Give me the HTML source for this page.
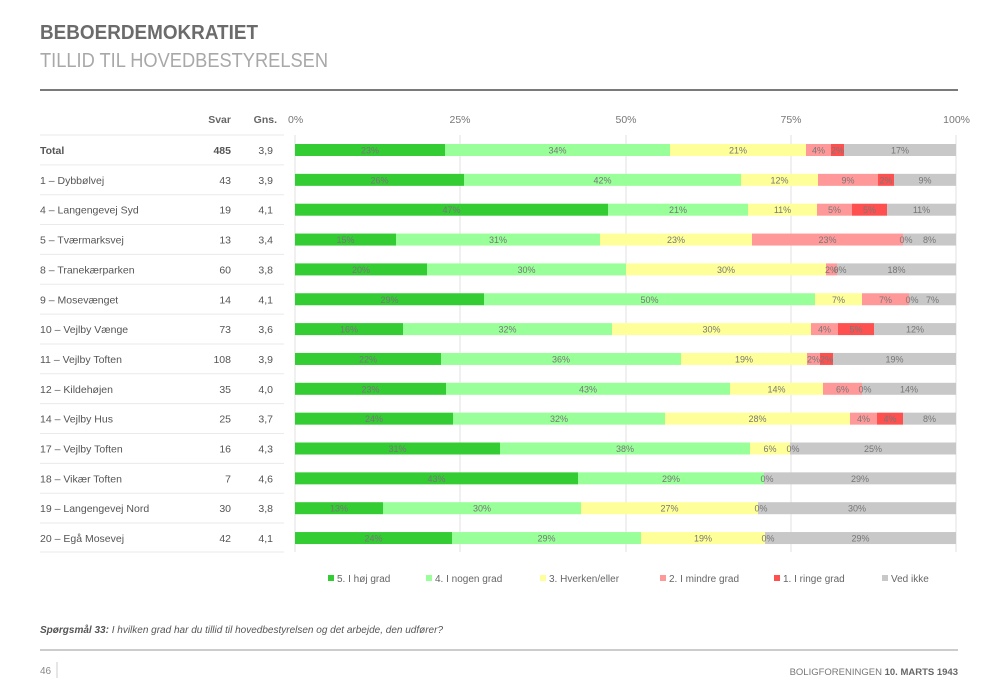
<!DOCTYPE html>
<html><head><meta charset="utf-8">
<style>
html,body{margin:0;padding:0;background:#fff;width:1000px;height:692px;overflow:hidden}
svg{display:block;font-family:"Liberation Sans",sans-serif}
</style></head><body>
<svg id="s" width="1000" height="692" viewBox="0 0 1000 692" xmlns="http://www.w3.org/2000/svg">
<text x="40" y="39" font-size="20" font-weight="bold" fill="#6b6b6b" textLength="218" lengthAdjust="spacingAndGlyphs">BEBOERDEMOKRATIET</text>
<text x="40" y="67" font-size="20" fill="#a8a8a8" textLength="288" lengthAdjust="spacingAndGlyphs">TILLID TIL HOVEDBESTYRELSEN</text>
<rect x="40" y="89" width="918" height="2" fill="#7a7a7a"/>
<text x="231" y="123" font-size="10.5" font-weight="bold" fill="#666" text-anchor="end">Svar</text>
<text x="277" y="123" font-size="10.5" font-weight="bold" fill="#666" text-anchor="end">Gns.</text>
<text x="288" y="123" font-size="10.5" fill="#777">0%</text>
<text x="460" y="123" font-size="10.5" fill="#777" text-anchor="middle">25%</text>
<text x="626" y="123" font-size="10.5" fill="#777" text-anchor="middle">50%</text>
<text x="791" y="123" font-size="10.5" fill="#777" text-anchor="middle">75%</text>
<text x="970" y="123" font-size="10.5" fill="#777" text-anchor="end">100%</text>
<g id="g"></g>
<line x1="40" y1="650" x2="958" y2="650" stroke="#bbb" stroke-width="1.5"/>
<text x="40" y="633" font-size="10" font-style="italic" fill="#555"><tspan font-weight="bold">Spørgsmål 33:</tspan> I hvilken grad har du tillid til hovedbestyrelsen og det arbejde, den udfører?</text>
<text x="40" y="674" font-size="10" fill="#888">46</text>
<line x1="57" y1="662" x2="57" y2="678" stroke="#ccc"/>
<text x="958" y="675" font-size="9.5" fill="#777" text-anchor="end">BOLIGFORENINGEN <tspan font-weight="bold" fill="#666">10. MARTS 1943</tspan></text>
</svg>
<script>
var C=["#33cc33","#99ff99","#ffff99","#ff9999","#ff5050","#c8c8c8"];
var rows=[
["Total","485","3,9",[445,670,806,831,844],["23%","34%","21%","4%","2%","17%"],1],
["1 – Dybbølvej","43","3,9",[464,741,818,878,894],["26%","42%","12%","9%","2%","9%"]],
["4 – Langengevej Syd","19","4,1",[608,748,817,852,887],["47%","21%","11%","5%","5%","11%"]],
["5 – Tværmarksvej","13","3,4",[396,600,752,903,903],["15%","31%","23%","23%","0%","8%"]],
["8 – Tranekærparken","60","3,8",[427,626,826,837,837],["20%","30%","30%","2%","0%","18%"]],
["9 – Mosevænget","14","4,1",[484,815,862,909,909],["29%","50%","7%","7%","0%","7%"]],
["10 – Vejlby Vænge","73","3,6",[403,612,811,838,874],["16%","32%","30%","4%","5%","12%"]],
["11 – Vejlby Toften","108","3,9",[441,681,807,820,833],["22%","36%","19%","2%","2%","19%"]],
["12 – Kildehøjen","35","4,0",[446,730,823,862,862],["23%","43%","14%","6%","0%","14%"]],
["14 – Vejlby Hus","25","3,7",[453,665,850,877,903],["24%","32%","28%","4%","4%","8%"]],
["17 – Vejlby Toften","16","4,3",[500,750,790,790,790],["31%","38%","6%","0%","","25%"]],
["18 – Vikær Toften","7","4,6",[578,764,764,764,764],["43%","29%","0%","","","29%"]],
["19 – Langengevej Nord","30","3,8",[383,581,758,758,758],["13%","30%","27%","0%","","30%"]],
["20 – Egå Mosevej","42","4,1",[452,641,765,765,765],["24%","29%","19%","0%","","29%"]]
];
var h='';
[460,626,791,956].forEach(function(x){h+='<line x1="'+x+'" y1="135" x2="'+x+'" y2="552" stroke="#e2e2e2"/>';});
h+='<line x1="295" y1="135" x2="295" y2="552" stroke="#e2e2e2"/>';
for(var i=0;i<rows.length;i++){
 var r=rows[i],cy=150+i*29.85,b=r[5]?' font-weight="bold"':'';
 h+='<line x1="40" y1="'+(cy-15)+'" x2="284" y2="'+(cy-15)+'" stroke="#eaeaea"/>';
 h+='<text x="40" y="'+(cy+4)+'" font-size="10.5" fill="#555"'+b+'>'+r[0]+'</text>';
 h+='<text x="231" y="'+(cy+4)+'" font-size="10.5" fill="#555" text-anchor="end"'+b+'>'+r[1]+'</text>';
 h+='<text x="273" y="'+(cy+4)+'" font-size="10.5" fill="#555" text-anchor="end">'+r[2]+'</text>';
 var xs=[295].concat(r[3]).concat([956]);
 for(var k=0;k<6;k++){
  var a=xs[k],e=xs[k+1];
  if(e>a)h+='<rect x="'+a+'" y="'+(cy-6)+'" width="'+(e-a)+'" height="12" fill="'+C[k]+'"/>';
 }
 for(var k=0;k<6;k++){
  var a=xs[k],e=xs[k+1],t=r[4][k];if(!t)continue;
  var x=(e>a)?(a+e)/2:a+3;
  h+='<text x="'+x+'" y="'+(cy+3.5)+'" font-size="9" fill="#777" text-anchor="middle">'+t+'</text>';
 }
}
h+='<line x1="40" y1="552" x2="284" y2="552" stroke="#eaeaea"/>';
var L=[[328,"5. I høj grad"],[426,"4. I nogen grad"],[540,"3. Hverken/eller"],[660,"2. I mindre grad"],[774,"1. I ringe grad"],[882,"Ved ikke"]];
L.forEach(function(l,j){h+='<rect x="'+l[0]+'" y="575" width="6" height="6" fill="'+C[j]+'"/><text x="'+(l[0]+9)+'" y="582" font-size="10" fill="#666">'+l[1]+'</text>';});
document.getElementById('g').innerHTML=h;
</script>
</body></html>
